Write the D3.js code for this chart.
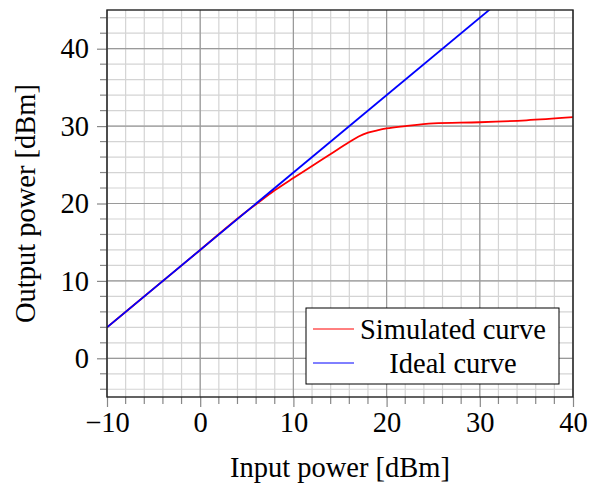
<!DOCTYPE html>
<html>
<head>
<meta charset="utf-8">
<script src="https://cdn.jsdelivr.net/npm/d3@7"></script>
<style>
  body { margin: 0; background: #fff; }
  svg text { font-family: "Liberation Serif", "DejaVu Serif", serif; fill: #000; }
</style>
</head>
<body>
<div id="chart"></div>
<script>
// Data
const inputPower = [-10, -5, 0, 5, 6, 8, 10, 12, 14, 16, 17, 18, 19, 20, 22, 25, 30, 35, 40];
const simulatedOutput = [4, 9, 14, 19, 19.9, 21.7, 23.3, 24.85, 26.4, 27.95, 28.65, 29.15, 29.45, 29.7, 30.0, 30.35, 30.5, 30.75, 31.15];
const idealInput = [-10, 40];
const idealOutput = [4, 54];
const xTicks = [-10, 0, 10, 20, 30, 40];
const yTicks = [0, 10, 20, 30, 40];
const seriesNames = ["Simulated curve", "Ideal curve"];

const simulated = inputPower.map((x, i) => ({ x, y: simulatedOutput[i] }));
const ideal = idealInput.map((x, i) => ({ x, y: idealOutput[i] }));

// Dimensions
let dimensions = {
  width: 589,
  height: 488,
  margin: { top: 10, bottom: 91, left: 107, right: 16 },
};
dimensions.containerWidth = dimensions.width - dimensions.margin.left - dimensions.margin.right;
dimensions.containerHeight = dimensions.height - dimensions.margin.top - dimensions.margin.bottom;

const fontSize = "28.5px";

const svg = d3.select("#chart").append("svg")
  .attr("width", dimensions.width)
  .attr("height", dimensions.height);

const container = svg.append("g")
  .attr("transform", `translate(${dimensions.margin.left}, ${dimensions.margin.top})`);

// Scales
const xScale = d3.scaleLinear().domain([-10, 40]).range([0, dimensions.containerWidth]);
const yScale = d3.scaleLinear().domain([-5, 45]).range([dimensions.containerHeight, 0]);

const xMinor = d3.range(-10, 40.01, 2);
const yMinor = d3.range(-4, 45.01, 2);

// Grid
container.append("g")
  .selectAll("line")
  .data(xMinor)
  .join("line")
  .attr("x1", d => xScale(d)).attr("x2", d => xScale(d))
  .attr("y1", 0).attr("y2", dimensions.containerHeight)
  .attr("stroke", "#d4d4d4").attr("stroke-width", 1.2);
container.append("g")
  .selectAll("line")
  .data(yMinor)
  .join("line")
  .attr("y1", d => yScale(d)).attr("y2", d => yScale(d))
  .attr("x1", 0).attr("x2", dimensions.containerWidth)
  .attr("stroke", "#d4d4d4").attr("stroke-width", 1.2);
container.append("g")
  .selectAll("line")
  .data(xTicks)
  .join("line")
  .attr("x1", d => xScale(d)).attr("x2", d => xScale(d))
  .attr("y1", 0).attr("y2", dimensions.containerHeight)
  .attr("stroke", "#9a9a9a").attr("stroke-width", 1.2);
container.append("g")
  .selectAll("line")
  .data(yTicks)
  .join("line")
  .attr("y1", d => yScale(d)).attr("y2", d => yScale(d))
  .attr("x1", 0).attr("x2", dimensions.containerWidth)
  .attr("stroke", "#9a9a9a").attr("stroke-width", 1.2);

// Lines
const line = d3.line()
  .x(d => xScale(d.x))
  .y(d => yScale(d.y))
  .curve(d3.curveMonotoneX);

container.append("defs").append("clipPath").attr("id", "clip")
  .append("rect")
  .attr("width", dimensions.containerWidth)
  .attr("height", dimensions.containerHeight);

container.append("path")
  .datum(simulated)
  .attr("clip-path", "url(#clip)")
  .attr("fill", "none")
  .attr("stroke", "#ff0000")
  .attr("stroke-width", 1.8)
  .attr("d", line);

container.append("path")
  .datum(ideal)
  .attr("clip-path", "url(#clip)")
  .attr("fill", "none")
  .attr("stroke", "#0000ff")
  .attr("stroke-width", 1.8)
  .attr("d", d3.line().x(d => xScale(d.x)).y(d => yScale(d.y)));

// Axes
const xAxis = d3.axisBottom(xScale).tickValues(xTicks).tickSize(10).tickPadding(5)
  .tickFormat(d => d < 0 ? "\u2212" + Math.abs(d) : d);
const xAxisGroup = container.append("g")
  .attr("transform", `translate(0, ${dimensions.containerHeight})`)
  .call(xAxis);
xAxisGroup.select(".domain").remove();
xAxisGroup.selectAll(".tick line").attr("stroke", "#888").attr("stroke-width", 1.2);
xAxisGroup.selectAll("text").style("font-size", fontSize);

container.append("g")
  .attr("transform", `translate(0, ${dimensions.containerHeight})`)
  .selectAll("line")
  .data(xMinor.filter(d => !xTicks.includes(d)))
  .join("line")
  .attr("x1", d => xScale(d)).attr("x2", d => xScale(d))
  .attr("y1", 0).attr("y2", 7)
  .attr("stroke", "#888").attr("stroke-width", 1.2);

const yAxis = d3.axisLeft(yScale).tickValues(yTicks).tickSize(10).tickPadding(8);
const yAxisGroup = container.append("g").call(yAxis);
yAxisGroup.select(".domain").remove();
yAxisGroup.selectAll(".tick line").attr("stroke", "#888").attr("stroke-width", 1.2);
yAxisGroup.selectAll("text").style("font-size", fontSize);

container.append("g")
  .selectAll("line")
  .data(yMinor.filter(d => !yTicks.includes(d)))
  .join("line")
  .attr("y1", d => yScale(d)).attr("y2", d => yScale(d))
  .attr("x1", -7).attr("x2", 0)
  .attr("stroke", "#888").attr("stroke-width", 1.2);

// Frame
container.append("rect")
  .attr("width", dimensions.containerWidth)
  .attr("height", dimensions.containerHeight)
  .attr("fill", "none")
  .attr("stroke", "#222")
  .attr("stroke-width", 1.4);

// Axis titles
svg.append("text")
  .attr("x", dimensions.margin.left + dimensions.containerWidth / 2)
  .attr("y", 477)
  .attr("text-anchor", "middle")
  .style("font-size", fontSize)
  .text("Input power [dBm]");

svg.append("text")
  .attr("transform", `translate(35, ${dimensions.margin.top + dimensions.containerHeight / 2}) rotate(-90)`)
  .attr("text-anchor", "middle")
  .style("font-size", fontSize)
  .text("Output power [dBm]");

// Legend
const legend = svg.append("g").attr("transform", "translate(306, 308)");
legend.append("rect")
  .attr("width", 253).attr("height", 76)
  .attr("fill", "#fff").attr("stroke", "#000").attr("stroke-width", 1);
const legendColors = ["#ff0000", "#0000ff"];
const entries = legend.selectAll("g.entry")
  .data(seriesNames)
  .join("g")
  .attr("class", "entry")
  .attr("transform", (d, i) => `translate(0, ${21 + i * 34})`);
entries.append("line")
  .attr("x1", 7).attr("x2", 48)
  .attr("stroke", (d, i) => legendColors[i])
  .attr("stroke-width", 1);
entries.append("text")
  .attr("x", 147)
  .attr("dy", "0.35em")
  .attr("text-anchor", "middle")
  .style("font-size", fontSize)
  .text(d => d);
</script>
</body>
</html>
